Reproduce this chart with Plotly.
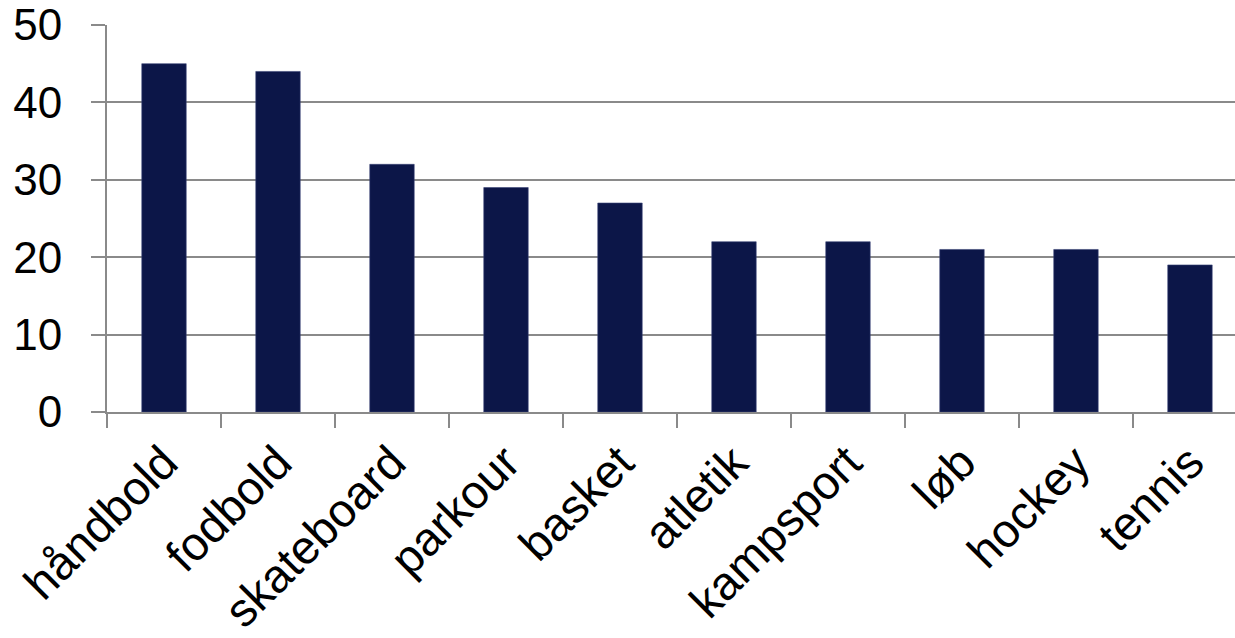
import plotly.graph_objects as go

# Sports and their values
sports = ["håndbold", "fodbold", "skateboard", "parkour", "basket",
          "atletik", "kampsport", "løb", "hockey", "tennis"]
values = [45, 44, 32, 29, 27, 22, 22, 21, 21, 19]
y_ticks = [0, 10, 20, 30, 40, 50]

axis_gray = "#8a8a8a"
bar_color = "#0c1648"

fig = go.Figure(
    go.Bar(
        x=sports,
        y=values,
        marker=dict(color=bar_color, line=dict(color="#3a4477", width=0.6)),
        width=0.39,
    )
)

fig.update_layout(
    width=1235,
    height=638,
    margin=dict(l=107, r=0, t=25, b=226, autoexpand=False),
    paper_bgcolor="white",
    plot_bgcolor="white",
    font=dict(family="Liberation Sans, Arial, sans-serif", size=44, color="black"),
    showlegend=False,
    bargap=0.61,
)

fig.update_xaxes(
    type="category",
    range=[-0.5, 9.395],
    automargin=False,
    tickangle=-45,
    ticks="outside",
    tickson="boundaries",
    ticklen=14,
    tickwidth=2,
    tickcolor=axis_gray,
    showline=True,
    linecolor=axis_gray,
    linewidth=2,
    showgrid=False,
    ticklabelstandoff=2,
    tickfont=dict(size=47),
)

fig.update_yaxes(
    range=[0, 50],
    automargin=False,
    tickvals=y_ticks,
    ticks="outside",
    ticklen=14,
    tickwidth=2,
    tickcolor=axis_gray,
    showline=True,
    linecolor=axis_gray,
    linewidth=2,
    showgrid=True,
    gridcolor=axis_gray,
    gridwidth=2,
    zeroline=False,
    ticklabelstandoff=20,
    tickfont=dict(size=44),
)

fig.write_html("out.html")
